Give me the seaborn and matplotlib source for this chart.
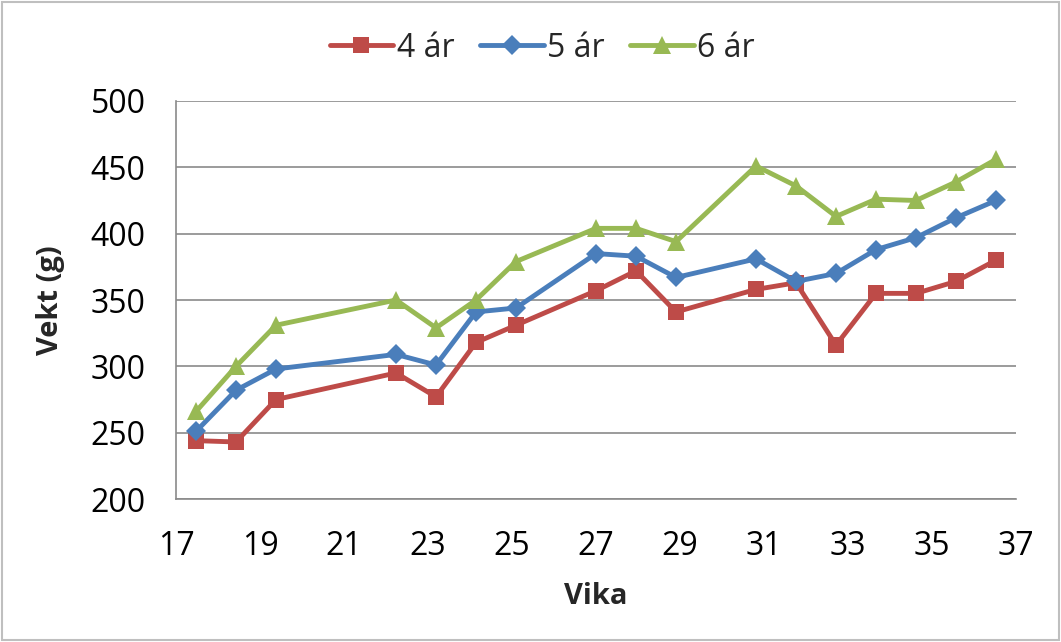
import pandas as pd
import matplotlib.pyplot as plt
import seaborn as sns
from matplotlib.ticker import FixedLocator
from matplotlib.patches import Rectangle

# Data
weeks = [17, 18, 19, 22, 23, 24, 25, 27, 28, 29, 31, 32, 33, 34, 35, 36, 37]
age4 = [244, 243, 275, 295, 277, 318, 331, 357, 372, 341, 358, 363, 316, 355, 355, 364, 380]
age5 = [251, 282, 298, 309, 301, 341, 344, 385, 383, 367, 381, 364, 370, 388, 397, 412, 425]
age6 = [266, 300, 331, 350, 329, 350, 379, 404, 404, 394, 451, 436, 413, 426, 425, 439, 456]
series = ['4 ár', '5 ár', '6 ár']
tick_labels = [str(w) for w in range(17, 38)]

df = pd.concat([
    pd.DataFrame({'Vika': weeks, 'Vekt': vals, 'Aldur': name})
    for name, vals in zip(series, [age4, age5, age6])
])

sns.set_style('white')
plt.rcParams['font.family'] = ['Open Sans', 'DejaVu Sans']

colors = {'4 ár': '#BE4B48', '5 ár': '#4A7EBB', '6 ár': '#98B954'}
markers = {'4 ár': 's', '5 ár': 'D', '6 ár': '^'}
sizes = {'4 ár': 11, '5 ár': 10, '6 ár': 13}

fig = plt.figure(figsize=(10.61, 6.42), dpi=100)
ax = fig.add_axes([0.1659, 0.2227, 0.7917, 0.62])

for name in series:
    sns.lineplot(data=df[df['Aldur'] == name], x='Vika', y='Vekt',
                 color=colors[name], marker=markers[name], markersize=sizes[name],
                 markeredgewidth=0, linewidth=3.5, label=name, ax=ax)

# Excel-style date axis: 16.5..37.5, tick marks spread evenly over 20 intervals
x0, x1 = 16.5, 37.5
ax.set_xlim(x0, x1)
ax.set_ylim(200, 500)
n = len(tick_labels) - 1
tick_pos = [x0 + k * (x1 - x0) / n for k in range(n + 1)]
ax.xaxis.set_major_locator(FixedLocator(tick_pos[::2]))
ax.xaxis.set_minor_locator(FixedLocator(tick_pos))
ax.set_xticklabels(tick_labels[::2])
ax.set_yticks(range(200, 501, 50))
ax.grid(axis='y', color='#8a8a8a', linewidth=1.2)
ax.set_axisbelow(True)

for s in ['top', 'right']:
    ax.spines[s].set_visible(False)
for s in ['left', 'bottom']:
    ax.spines[s].set_color('#8a8a8a')
    ax.spines[s].set_linewidth(1.2)

ax.tick_params(axis='both', which='both', direction='out', color='#8a8a8a',
               width=1.2, labelsize=23, colors='#8a8a8a', labelcolor='black')
ax.tick_params(axis='x', which='both', length=10, pad=12)
ax.tick_params(axis='y', length=10, pad=12)

ax.set_xlabel('Vika', fontsize=21, fontweight='bold', labelpad=14)
ax.set_ylabel('Vekt (g)', fontsize=21, fontweight='bold', labelpad=18)

handles, labels = ax.get_legend_handles_labels()
ax.legend(handles, labels, loc='center', bbox_to_anchor=(0.511, 0.925),
          bbox_transform=fig.transFigure, ncol=3, frameon=False, fontsize=23,
          handlelength=2.0, handletextpad=0.1, columnspacing=0.8)

fig.patches.append(Rectangle((0.002, 0.003), 0.996, 0.994, transform=fig.transFigure,
                             fill=False, edgecolor='#bfbfbf', linewidth=1.5))

plt.savefig('out.png', dpi=100)
